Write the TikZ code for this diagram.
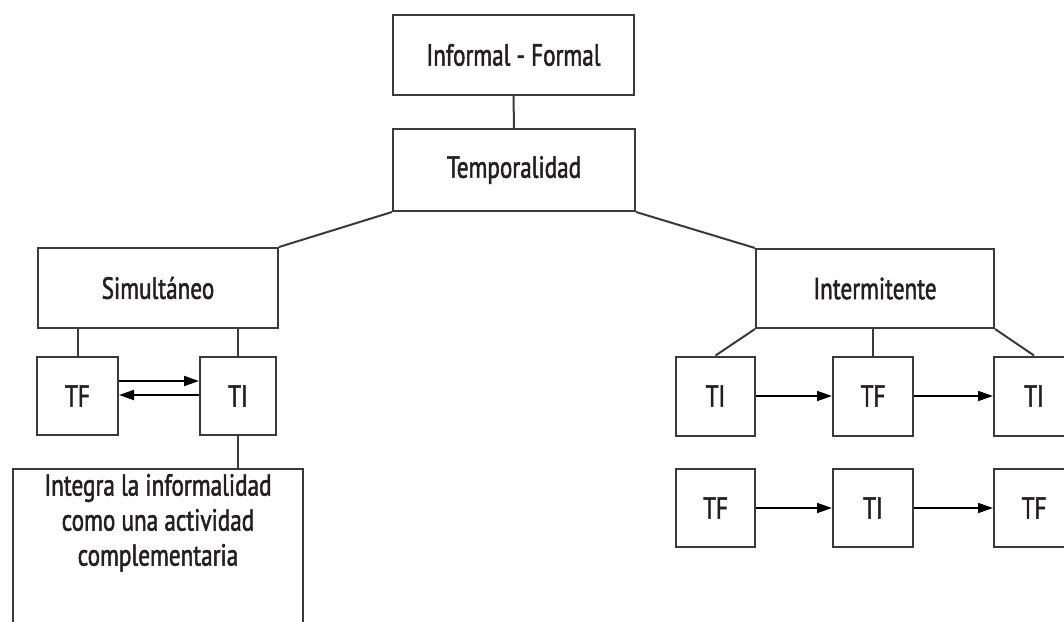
\documentclass[tikz,border=0pt]{standalone}
\usepackage{fontspec}
\setmainfont{PT Sans}[FakeStretch=0.76,FakeBold=1.6]
\usetikzlibrary{arrows.meta}
\definecolor{ink}{HTML}{231F20}
\definecolor{edge}{HTML}{3A3A3A}
\tikzset{
  box/.style={draw=edge, line width=2pt, fill=white, text=ink, inner sep=0pt,
    font=\fontsize{30.5}{35}\selectfont},
  link/.style={draw=edge, line width=2pt},
  flow/.style={draw=black, line width=1.8pt, -{Triangle[length=15pt,width=10pt]}}
}
\begin{document}
\begin{tikzpicture}[x=1pt,y=-1pt]
\useasboundingbox (0,0) rectangle (1064,621);
\clip (0,0) rectangle (1064,621);
% top
\node[box, minimum width=241pt, minimum height=80pt] (inf) at (513.5,55) {Informal - Formal};
\node[box, minimum width=242pt, minimum height=82pt] (temp) at (514,170) {Temporalidad};
% left branch
\node[box, minimum width=240pt, minimum height=80pt] (sim) at (158,288) {Simultáneo};
\node[box, minimum width=81pt, minimum height=78pt] (tfa) at (77.5,396) {TF};
\node[box, minimum width=76pt, minimum height=78pt] (tia) at (238,396) {TI};
\node[box, minimum width=290pt, anchor=north, align=center, inner ysep=5pt,
      text depth=140pt] (integ) at (158,468)
  {Integra la informalidad\\como una actividad\\complementaria};
% right branch
\node[box, minimum width=238pt, minimum height=79pt] (int) at (875,288.5) {Intermitente};
\node[box, minimum width=79pt, minimum height=79pt] (ra) at (715.5,396) {TI};
\node[box, minimum width=80pt, minimum height=79pt] (rb) at (873,396) {TF};
\node[box, minimum width=80pt, minimum height=79pt] (rc) at (1034,396) {TI};
\node[box, minimum width=79pt, minimum height=78pt] (sa) at (715.5,508) {TF};
\node[box, minimum width=80pt, minimum height=78pt] (sb) at (873,508) {TI};
\node[box, minimum width=80pt, minimum height=78pt] (sc) at (1034,508) {TF};
% connectors
\draw[link] (inf.south) -- (temp.north);
\draw[link] (temp.south west) -- (sim.north east);
\draw[link] (temp.south east) -- (int.north west);
\draw[link] (tfa.north |- sim.south) -- (tfa.north);
\draw[link] (tia.north |- sim.south) -- (tia.north);
\draw[link] (tia.south) -- (tia.south |- integ.north);
\draw[flow] ([yshift=15pt]tfa.east) -- ([yshift=15pt]tia.west);
\draw[flow] ([yshift=1pt]tia.west) -- ([yshift=1pt]tfa.east);
\draw[link] (int.south west) -- (ra.north);
\draw[link] (int.south -| rb.north) -- (rb.north);
\draw[link] (int.south east) -- (rc.north);
\draw[flow] (ra.east) -- (rb.west);
\draw[flow] (rb.east) -- (rc.west);
\draw[flow] (sa.east) -- (sb.west);
\draw[flow] (sb.east) -- (sc.west);
\end{tikzpicture}
\end{document}
